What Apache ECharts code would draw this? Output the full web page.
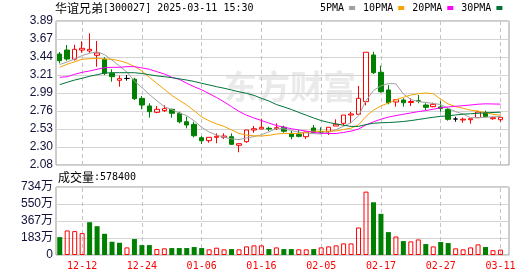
<!DOCTYPE html>
<html><head><meta charset="utf-8">
<script src="https://cdn.jsdelivr.net/npm/echarts@6/dist/echarts.min.js"></script>
<style>html,body{margin:0;padding:0;background:#fff}#c{width:530px;height:276px}</style>
</head><body><div id="c"></div>
<script>
const dates = ['12-09','12-10','12-11','12-12','12-13','12-16','12-17','12-18','12-19','12-20','12-23','12-24','12-25','12-26','12-27','12-30','12-31',
'01-02','01-03','01-06','01-07','01-08','01-09','01-10','01-13','01-14','01-15','01-16','01-17','01-20','01-21','01-22','01-23','01-24','01-27',
'02-05','02-06','02-07','02-10','02-11','02-12','02-13','02-14','02-17','02-18','02-19','02-20','02-21','02-24','02-25','02-26','02-27','02-28',
'03-03','03-04','03-05','03-06','03-07','03-10','03-11'];
const opens = [3.475,3.525,3.409,3.525,3.513,3.459,3.409,3.233,3.145,3.168,3.157,2.918,2.822,2.742,2.763,2.78,2.73,2.624,2.591,2.423,
2.386,2.428,2.428,2.436,2.328,2.373,2.52,2.533,2.541,2.536,2.554,2.478,2.466,2.436,2.545,2.50,2.499,2.57,2.604,2.708,
2.717,2.876,3.463,3.245,3.023,2.872,2.897,2.866,2.888,2.834,2.813,2.81,2.78,2.658,2.646,2.649,2.675,2.738,2.662,2.649];
const closes = [3.391,3.412,3.534,3.547,3.534,3.488,3.233,3.19,3.165,3.168,2.913,2.834,2.75,2.78,2.788,2.73,2.624,2.583,2.448,2.385,
2.428,2.441,2.444,2.34,2.348,2.52,2.536,2.554,2.532,2.549,2.504,2.436,2.44,2.495,2.488,2.494,2.554,2.592,2.708,2.721,
2.918,3.497,3.24,3.001,2.863,2.901,2.863,2.878,2.88,2.805,2.843,2.79,2.654,2.658,2.656,2.662,2.746,2.687,2.675,2.679];
const lows = [3.358,3.391,3.393,3.492,3.49,3.316,3.211,3.127,3.064,3.14,2.897,2.78,2.675,2.73,2.746,2.675,2.604,2.541,2.428,2.344,
2.36,2.353,2.407,2.331,2.24,2.36,2.486,2.529,2.507,2.52,2.486,2.403,2.428,2.407,2.478,2.478,2.457,2.57,2.574,2.604,
2.717,2.83,3.224,2.989,2.843,2.813,2.813,2.822,2.856,2.771,2.805,2.75,2.637,2.624,2.612,2.599,2.675,2.679,2.649,2.624];
const highs = [3.50,3.588,3.592,3.635,3.735,3.639,3.434,3.283,3.205,3.211,3.177,2.947,2.856,2.822,2.83,2.788,2.75,2.687,2.624,2.444,
2.428,2.478,2.478,2.478,2.348,2.52,2.57,2.662,2.562,2.604,2.574,2.507,2.52,2.495,2.583,2.554,2.554,2.654,2.708,2.75,
3.073,3.497,3.504,3.328,3.086,2.901,2.918,2.918,2.96,2.856,2.863,2.885,2.793,2.687,2.675,2.662,2.763,2.763,2.687,2.679];
const ma5 = [3.343,3.375,3.412,3.456,3.484,3.503,3.467,3.398,3.323,3.249,3.134,3.054,2.966,2.888,2.813,2.776,2.734,2.701,2.635,2.554,
2.494,2.457,2.429,2.408,2.400,2.419,2.438,2.460,2.498,2.538,2.535,2.515,2.491,2.484,2.473,2.471,2.494,2.525,2.568,2.613,
2.699,2.887,3.017,3.075,3.104,3.100,2.974,2.903,2.877,2.866,2.854,2.840,2.793,2.750,2.722,2.674,2.675,2.681,2.685,2.690];
const ma10 = [3.308,3.346,3.378,3.409,3.416,3.421,3.412,3.409,3.391,3.362,3.319,3.261,3.182,3.106,3.031,2.955,2.894,2.834,2.762,2.684,
2.635,2.596,2.565,2.521,2.477,2.456,2.447,2.444,2.453,2.469,2.477,2.476,2.476,2.491,2.506,2.503,2.505,2.508,2.526,2.543,
2.585,2.691,2.771,2.822,2.859,2.900,2.930,2.960,2.976,2.985,2.977,2.907,2.848,2.814,2.793,2.769,2.757,2.737,2.717,2.705];
const ma20 = [3.182,3.19,3.22,3.245,3.262,3.283,3.303,3.308,3.308,3.316,3.316,3.30,3.283,3.253,3.224,3.182,3.157,3.107,3.064,3.025,
2.977,2.928,2.874,2.813,2.754,2.706,2.671,2.639,2.607,2.576,2.556,2.536,2.520,2.506,2.491,2.479,2.476,2.476,2.489,2.506,
2.531,2.584,2.623,2.656,2.682,2.701,2.718,2.734,2.751,2.764,2.781,2.799,2.810,2.818,2.826,2.834,2.844,2.849,2.847,2.845];
const ma30 = [3.09,3.12,3.148,3.17,3.195,3.215,3.235,3.24,3.24,3.24,3.24,3.23,3.215,3.20,3.19,3.178,3.163,3.148,3.13,3.107,
3.086,3.064,3.045,3.023,3.00,2.981,2.955,2.918,2.885,2.840,2.810,2.778,2.741,2.706,2.671,2.638,2.615,2.596,2.580,2.565,
2.565,2.588,2.604,2.611,2.614,2.619,2.627,2.638,2.652,2.666,2.680,2.691,2.698,2.709,2.719,2.724,2.731,2.735,2.740,2.744];
// volume in 万
const volumes = [193,265,258,236,354,311,229,143,132,82,172,107,107,64,72,75,75,75,86,75,
61,79,61,64,61,93,104,104,64,82,64,64,61,61,64,82,93,104,125,125,
297,684,569,444,247,200,150,147,168,118,93,140,129,72,61,82,115,86,52,57.84];
const volUp = [0,1,1,1,0,0,0,0,0,1,0,0,0,1,1,0,0,0,0,0,
1,1,1,0,1,1,1,1,0,1,0,0,1,1,0,1,1,1,1,1,
1,1,0,0,0,1,0,1,1,0,1,0,0,1,1,1,1,0,1,1];
const labelDates = ['12-12','12-24','01-06','01-16','02-05','02-17','02-27','03-11'];
const priceLabels = ['2.08','2.30','2.53','2.76','2.99','3.21','3.44','3.67','3.89'];
const volLabels = ['0','183万','367万','550万','734万'];
const priceMin = 2.08, priceMax = 3.89, priceStep = (3.89 - 2.08) / 8;
const volMin = 0, volMax = 734, volStep = 183.5;

const RED = '#ff0000', GREEN = '#008000';
const mono = "'DejaVu Sans Mono', monospace";
const cjk = "'Noto Sans CJK SC'";
const chart = echarts.init(document.getElementById('c'), null, {renderer: 'canvas'});
const vline = (xs) => ({
  silent: true, symbol: 'none', z: 1, animation: false,
  label: {show: false},
  lineStyle: {type: [4, 3], color: '#c4c4c4', width: 1},
  emphasis: {disabled: true},
  data: xs.map(d => ({xAxis: d}))
});
const frameTop = {left: 56, right: 21, top: 21, height: 144};
const frameVol = {left: 56, right: 21, top: 187, height: 68};
const dataW = 448.2;
const richTxt = {a: {fontFamily: cjk, fontSize: 12, fontWeight: 'normal', color: '#000'}, b: {fontFamily: mono, fontSize: 10, fontWeight: 'normal', color: '#000'}};
chart.setOption({
  backgroundColor: '#fff',
  animation: false,
  title: [
    {text: '{a|华谊兄弟}{b|[300027] 2025-03-11 15:30}', left: 55, top: 2, padding: 0,
     textStyle: {fontWeight: 'normal', rich: richTxt}},
    {text: '{a|成交量}{b|:578400}', left: 58, top: 171, padding: 0,
     textStyle: {fontWeight: 'normal', rich: richTxt}}
  ],
  legend: {
    left: 320, top: 3, padding: 0, align: 'right', icon: 'rect', itemWidth: 6, itemHeight: 4, itemGap: 8,
    selectedMode: false,
    textStyle: {fontFamily: mono, fontSize: 10, color: '#000', padding: [0, 0, 0, 0]},
    data: ['5PMA', '10PMA', '20PMA', '30PMA']
  },
  graphic: [{
    type: 'text', left: 224, top: 70, z: -1, silent: true,
    style: {text: '东方财富', fontFamily: cjk, fontWeight: 'bold', fontSize: 33, fill: '#eaeaea'}
  }],
  grid: [
    Object.assign({show: true, borderColor: '#999', borderWidth: 1}, frameTop),
    {left: 56, width: dataW, top: 21, height: 144},
    Object.assign({show: true, borderColor: '#999', borderWidth: 1}, frameVol),
    {left: 56, width: dataW, top: 187, height: 68}
  ],
  xAxis: [
    {type: 'value', gridIndex: 0, min: 0, max: 1, show: false},
    {type: 'category', gridIndex: 1, data: dates, show: false},
    {type: 'value', gridIndex: 2, min: 0, max: 1, show: false},
    {type: 'category', gridIndex: 3, data: dates,
     axisLine: {show: false}, axisTick: {show: false},
     axisLabel: {interval: (i, v) => labelDates.indexOf(v) >= 0, color: RED, fontFamily: mono, fontSize: 10, margin: 6, showMaxLabel: true}}
  ],
  yAxis: [
    {type: 'value', gridIndex: 0, min: priceMin, max: priceMax, interval: priceStep,
     axisLine: {show: false}, axisTick: {show: false},
     axisLabel: {margin: 3, color: '#11113a', fontFamily: "'Liberation Sans', Arial", fontSize: 12,
       formatter: v => priceLabels[Math.round((v - priceMin) / priceStep)]},
     splitLine: {lineStyle: {color: '#d4d4d4', width: 1}}},
    {type: 'value', gridIndex: 1, min: priceMin, max: priceMax, show: false},
    {type: 'value', gridIndex: 2, min: volMin, max: volMax, interval: volStep,
     axisLine: {show: false}, axisTick: {show: false},
     axisLabel: {margin: 3, color: '#11113a', fontFamily: "'Liberation Sans', Arial, 'Noto Sans CJK SC'", fontSize: 12,
       formatter: v => volLabels[Math.round((v - volMin) / volStep)]},
     splitLine: {lineStyle: {color: '#d4d4d4', width: 1}}},
    {type: 'value', gridIndex: 3, min: volMin, max: volMax, show: false}
  ],
  series: [
    {type: 'candlestick', name: 'K', xAxisIndex: 1, yAxisIndex: 1, barWidth: 5, z: 3,
     data: dates.map((d, i) => [opens[i], closes[i], lows[i], highs[i]]),
     itemStyle: {color: 'rgba(0,0,0,0)', color0: GREEN, borderColor: RED, borderColor0: GREEN, borderColorDoji: '#000', borderWidth: 1},
     markLine: vline(labelDates)},
    {type: 'line', name: '5PMA', xAxisIndex: 1, yAxisIndex: 1, data: ma5, symbol: 'none', z: 4, color: '#a0a0a0', lineStyle: {width: 1, color: '#a0a0a0'}},
    {type: 'line', name: '10PMA', xAxisIndex: 1, yAxisIndex: 1, data: ma10, symbol: 'none', z: 4, color: '#f5a300', lineStyle: {width: 1, color: '#f5a300'}},
    {type: 'line', name: '20PMA', xAxisIndex: 1, yAxisIndex: 1, data: ma20, symbol: 'none', z: 4, color: '#ff00ff', lineStyle: {width: 1, color: '#ff00ff'}},
    {type: 'line', name: '30PMA', xAxisIndex: 1, yAxisIndex: 1, data: ma30, symbol: 'none', z: 4, color: '#00733a', lineStyle: {width: 1, color: '#00733a'}},
    {type: 'bar', name: 'VOL', xAxisIndex: 3, yAxisIndex: 3, barWidth: 5, z: 3,
     data: volumes.map((v, i) => ({value: v, itemStyle: volUp[i] ? {color: 'rgba(0,0,0,0)', borderColor: RED, borderWidth: 1} : {color: GREEN}})),
     markLine: vline(labelDates)}
  ]
});
</script></body></html>
